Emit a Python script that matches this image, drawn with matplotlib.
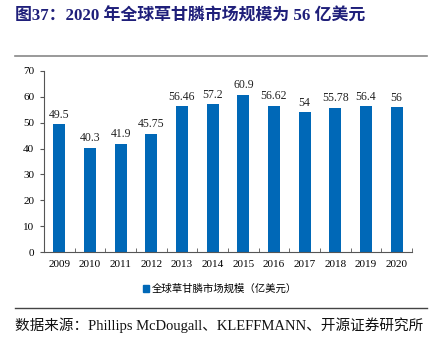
import matplotlib
matplotlib.use("Agg")
import matplotlib.pyplot as plt
from matplotlib.lines import Line2D
from matplotlib.patches import Patch

years = ["2009", "2010", "2011", "2012", "2013", "2014", "2015", "2016", "2017", "2018", "2019", "2020"]
values = [49.5, 40.3, 41.9, 45.75, 56.46, 57.2, 60.9, 56.62, 54, 55.78, 56.4, 56]
labels = ["49.5", "40.3", "41.9", "45.75", "56.46", "57.2", "60.9", "56.62", "54", "55.78", "56.4", "56"]
yticks = [0, 10, 20, 30, 40, 50, 60, 70]
series_name = "全球草甘膦市场规模（亿美元）"
title = "图37：2020 年全球草甘膦市场规模为 56 亿美元"
source = "数据来源：Phillips McDougall、KLEFFMANN、开源证券研究所"

fam = ["Liberation Serif", "Noto Sans CJK SC"]
plt.rcParams["font.family"] = fam
color = "#0068B7"

W, H = 431, 339
fig = plt.figure(figsize=(W / 100, H / 100), dpi=100)
ax = fig.add_axes([44 / W, 1 - 252 / H, (412 - 44) / W, (252 - 71) / H])

x = list(range(len(years)))
ax.bar(x, values, width=0.39, color=color, zorder=2)
for xi, v, l in zip(x, values, labels):
    ax.text(xi, v + 1.3, l, ha="center", va="bottom", fontsize=8.5, color="#222222")

ax.set_xlim(-0.5, len(years) - 0.5)
ax.set_ylim(0, 70)
ax.set_yticks(yticks)
ax.set_yticklabels([str(t) for t in yticks], fontsize=8)
ax.set_xticks(x)
ax.set_xticklabels(years, fontsize=8)
ax.set_xticks([i + 0.5 for i in range(-1, len(years))], minor=True)
ax.tick_params(axis="x", which="major", length=0, pad=6)
ax.tick_params(axis="x", which="minor", length=3, direction="in", color="#555555")
ax.tick_params(axis="y", length=3, direction="out", color="#555555", pad=4)
for s in ["top", "right"]:
    ax.spines[s].set_visible(False)
ax.spines["left"].set_color("#555555")
ax.spines["bottom"].set_color("#555555")
ax.spines["left"].set_linewidth(0.8)
ax.spines["bottom"].set_linewidth(0.8)

leg = fig.legend(handles=[Patch(color=color, label=series_name)], loc="center",
                 bbox_to_anchor=(220 / W, 1 - 289 / H), frameon=False,
                 prop={"family": fam, "size": 7.5}, handlelength=0.6, handleheight=0.6,
                 handletextpad=0.3)

fig.text(15 / W, 1 - 17 / H, title, fontsize=12.2, fontweight="bold", color="#1F1F7A",
         ha="left", va="center")
fig.add_artist(Line2D([15 / W, 427 / W], [1 - 56 / H, 1 - 56 / H], color="#888888", lw=1.2))
fig.add_artist(Line2D([15 / W, 427 / W], [1 - 308 / H, 1 - 308 / H], color="#444444", lw=1.0))
fig.text(15 / W, 1 - 325 / H, source, fontsize=10.5, color="#111111", ha="left", va="center")

fig.savefig("out.png", dpi=100)
